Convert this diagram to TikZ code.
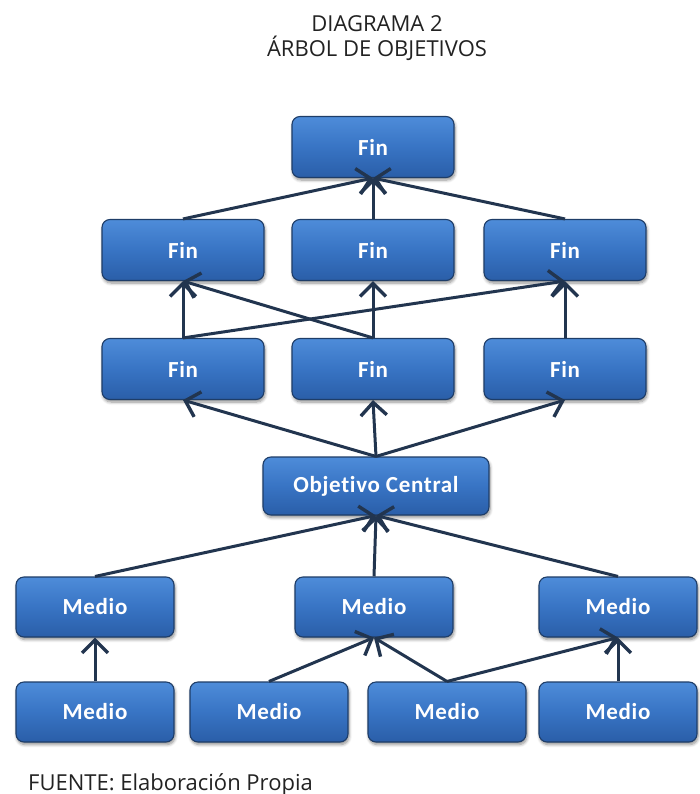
\documentclass[tikz,border=0pt]{standalone}
\usepackage{fontspec}
\setmainfont{Open Sans}
\newfontfamily\boxfont{Carlito}[LetterSpace=3, Ligatures=NoCommon]
\usetikzlibrary{arrows.meta,shadows.blur}

\definecolor{boxtop}{HTML}{4E8CD9}
\definecolor{boxmid}{HTML}{3874C4}
\definecolor{boxbot}{HTML}{2A5EA8}
\definecolor{boxedge}{HTML}{1E3D68}
\definecolor{linkcol}{HTML}{22354F}
\definecolor{titlecol}{HTML}{222222}

\tikzset{
  treebox/.style={
    rounded corners=8pt, draw=boxedge, line width=1.1pt,
    top color=boxtop, bottom color=boxbot, middle color=boxmid,
    minimum height=61pt, inner sep=0pt,
    text=white, font=\boxfont\bfseries\fontsize{23}{27}\selectfont,
    blur shadow={shadow xshift=1pt, shadow yshift=-2.5pt,
                 shadow opacity=45, shadow blur steps=6, shadow blur radius=3pt}},
  finbox/.style={treebox, minimum width=162pt},
  mediobox/.style={treebox, minimum width=158pt, minimum height=60pt},
  link/.style={draw=linkcol, line width=3pt,
    -{Straight Barb[length=13pt, width=26pt, line width=3.4pt]}},
  label/.style={text=titlecol, font=\fontsize{22}{26}\selectfont, inner sep=0pt}
}

\begin{document}
\begin{tikzpicture}[x=1pt, y=-1pt]
  \useasboundingbox (0,0) rectangle (699,794);

  % heading
  \node[label, anchor=base] (title1) at (377,32) {DIAGRAMA 2};
  \node[label, anchor=base] (title2) at (377,57) {ÁRBOL DE OBJETIVOS};

  % ends
  \node[finbox] (top) at (373,147) {Fin};
  \node[finbox] (f2l) at (183,250) {Fin};
  \node[finbox] (f2m) at (373,250) {Fin};
  \node[finbox] (f2r) at (565,250) {Fin};
  \node[finbox] (f3l) at (183,369) {Fin};
  \node[finbox] (f3m) at (373,369) {Fin};
  \node[finbox] (f3r) at (565,369) {Fin};

  % central objective
  \node[treebox, minimum width=226pt, minimum height=58pt] (obj) at (376,486) {Objetivo Central};

  % means
  \node[mediobox] (m4l) at (95,607) {Medio};
  \node[mediobox] (m4m) at (374,607) {Medio};
  \node[mediobox] (m4r) at (618,607) {Medio};
  \node[mediobox] (m5a) at (95,712) {Medio};
  \node[mediobox] (m5b) at (269,712) {Medio};
  \node[mediobox] (m5c) at (447,712) {Medio};
  \node[mediobox] (m5d) at (618,712) {Medio};

  % connectors
  \draw[link] (f2l.north) -- (top.south);
  \draw[link] (f2m.north) -- (top.south);
  \draw[link] (f2r.north) -- (top.south);

  \draw[link] (f3l.north) -- (f2l.south);
  \draw[link] (f3m.north) -- (f2l.south);
  \draw[link] (f3m.north) -- (f2m.south);
  \draw[link] (f3l.north) -- (f2r.south);
  \draw[link] (f3r.north) -- (f2r.south);

  \draw[link] (obj.north) -- (f3l.south);
  \draw[link] (obj.north) -- (f3m.south);
  \draw[link] (obj.north) -- (f3r.south);

  \draw[link] (m4l.north) -- (obj.south);
  \draw[link] (m4m.north) -- (obj.south);
  \draw[link] (m4r.north) -- (obj.south);

  \draw[link] (m5a.north) -- (m4l.south);
  \draw[link] (m5b.north) -- (m4m.south);
  \draw[link] (m5c.north) -- (m4m.south);
  \draw[link] (m5c.north) -- (m4r.south);
  \draw[link] (m5d.north) -- (m4r.south);

  % source note
  \node[label, anchor=base west] (source) at (28,790) {FUENTE: Elaboración Propia};
\end{tikzpicture}
\end{document}
